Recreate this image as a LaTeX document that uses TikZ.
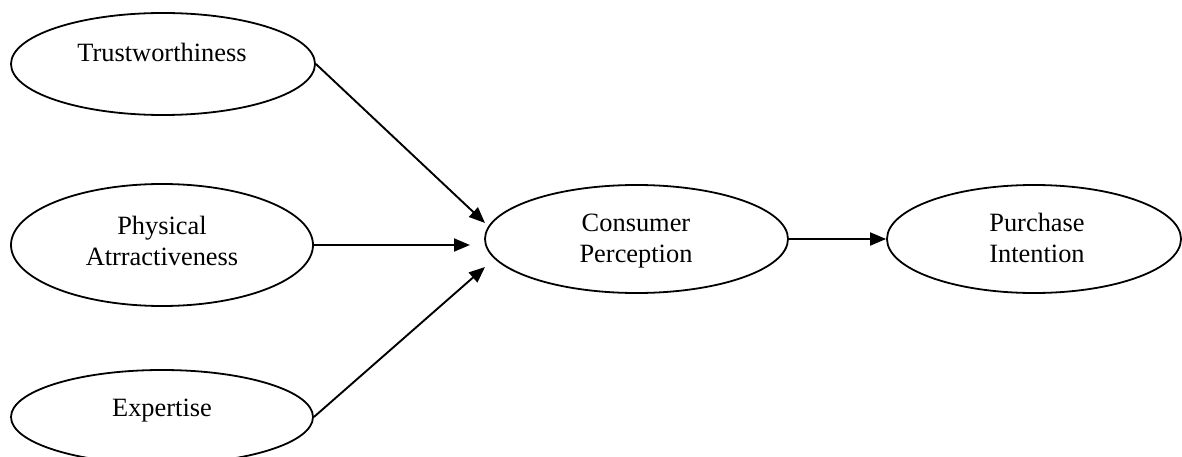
\documentclass[tikz,border=0pt]{standalone}
\usepackage{fontspec}
\setmainfont{Liberation Serif}
\usetikzlibrary{shapes.geometric,arrows.meta}
\begin{document}
\begin{tikzpicture}[x=1pt,y=-1pt,
  oval/.style={ellipse,draw,line width=1.8pt,inner sep=0pt},
  lbl/.style={align=center,inner sep=0pt,font=\fontsize{26.4}{31}\selectfont},
  conn/.style={line width=1.9pt,-{Triangle[length=16pt,width=13pt]}}]
\useasboundingbox (0,0) rectangle (1182,457);
\node[oval,minimum width=304pt,minimum height=102pt] (T) at (163,64) {};
\node[oval,minimum width=302pt,minimum height=122pt] (P) at (162,245) {};
\node[oval,minimum width=302pt,minimum height=94pt] (E) at (162,417) {};
\node[oval,minimum width=303pt,minimum height=108pt] (C) at (636.5,239) {};
\node[oval,minimum width=294pt,minimum height=108pt] (U) at (1034,239) {};
\node[lbl] (Tl) at (162,52) {Trustworthiness};
\node[lbl] (Pl) at (162,241) {Physical\\Atrractiveness};
\node[lbl] (El) at (162,411) {Expertise};
\node[lbl] (Cl) at (636,241) {Consumer\\Perception};
\node[lbl] (Ul) at (1037,238) {Purchase\\Intention};
\coordinate (a1) at (485,223);
\coordinate (a2) at (470,245);
\coordinate (a3) at (485,267);
\draw[conn] (T.east) -- (a1);
\draw[conn] (P.east) -- (a2);
\draw[conn] (E.east) -- (a3);
\draw[conn] (C.east) -- (U.west);
\end{tikzpicture}
\end{document}
